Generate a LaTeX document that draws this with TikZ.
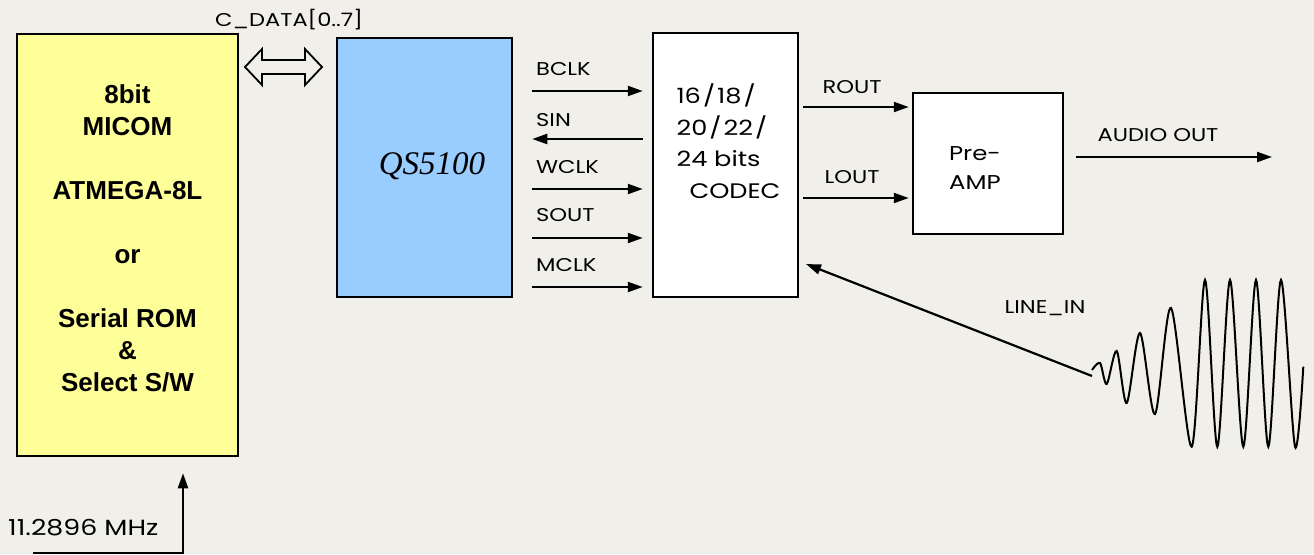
\documentclass[tikz,border=0pt]{standalone}
\usepackage{fontspec}
\setmainfont{Poppins}[FakeStretch=1.22]
\newfontfamily\arialfont{Liberation Sans}
\newfontfamily\timesfont{Liberation Serif}
\usetikzlibrary{arrows.meta}

\definecolor{paper}{RGB}{241,239,233}
\definecolor{micomyellow}{RGB}{255,255,153}
\definecolor{qsblue}{RGB}{153,204,255}

\newcommand{\bitsl}{\kern2pt/\kern2pt}

\begin{document}
\begin{tikzpicture}[x=1pt,y=-1pt,
    blk/.style={draw,line width=2.5pt,inner sep=0pt},
    sig/.style={line width=2.2pt,-{Triangle[length=15pt,width=10pt]}},
    lbl/.style={font=\fontsize{18.5}{20}\selectfont,inner sep=0pt}]
    \fill[paper] (0,0) rectangle (1314,554);
    \useasboundingbox (0,0) rectangle (1314,554);

    \node[blk,fill=micomyellow,minimum width=221pt,minimum height=422pt] (micom) at (127.5,245) {};
    \node[blk,fill=qsblue,minimum width=175pt,minimum height=259pt] (qs) at (424.5,167.5) {};
    \node[blk,fill=white,minimum width=145pt,minimum height=264pt] (codec) at (725.5,165) {};
    \node[blk,fill=white,minimum width=150pt,minimum height=141pt] (preamp) at (988,163.5) {};

    \node[align=center,font=\arialfont\bfseries\fontsize{26}{32}\selectfont] (micomtxt) at (127.5,238)
        {8bit\\MICOM\\[32pt]ATMEGA-8L\\[32pt]or\\[32pt]Serial ROM\\\&\\Select S/W};
    \node[font=\timesfont\itshape\fontsize{33}{36}\selectfont] (qstxt) at (432,166) {QS5100};
    \node[align=left,anchor=west,font=\fontsize{21}{31.5}\selectfont] (codectxt) at (673,141)
        {16\bitsl18\bitsl\\20\bitsl22\bitsl\\24 bits\\\hspace*{13pt}CODEC};
    \node[align=center,font=\fontsize{20}{29}\selectfont] (preamptxt) at (975,168) {Pre-\\AMP};

    \coordinate (cdata) at (283.5,67);
    \draw[line width=1.8pt,line join=miter] (cdata) ++(-38.5,0) -- ++(17,-18) -- ++(0,11) -- ++(43,0)
        -- ++(0,-11) -- ++(17,18) -- ++(-17,18) -- ++(0,-11) -- ++(-43,0) -- ++(0,11) -- cycle;
    \node[lbl] at (289,20) {C\_DATA[0..7]};

    \foreach \name/\y/\ly in {BCLK/91/69,WCLK/189/167,SOUT/238/215,MCLK/287/265}{
        \draw[sig,shorten <=19pt,shorten >=9pt] (qs.east |- 0,\y) -- (codec.west |- 0,\y);
        \node[lbl,anchor=west] at (536,\ly) {\name};
    }
    \draw[sig,shorten <=9pt,shorten >=19pt] (codec.west |- 0,139) -- (qs.east |- 0,139);
    \node[lbl,anchor=west] at (536,120) {SIN};

    \draw[sig,shorten <=4pt,shorten >=3pt] (codec.east |- 0,107) -- (preamp.west |- 0,107);
    \node[lbl] at (852,87) {ROUT};
    \draw[sig,shorten <=4pt,shorten >=3pt] (codec.east |- 0,198) -- (preamp.west |- 0,198);
    \node[lbl] at (852,177) {LOUT};

    \coordinate (audio) at (1272,157);
    \draw[sig,shorten <=12pt] (preamp.east |- audio) -- (audio);
    \node[lbl] at (1158,135) {AUDIO OUT};

    \coordinate (linein) at (1092,376);
    \draw[sig] (linein) -- (806,264);
    \node[lbl] at (1045,308) {LINE\_IN};
    \draw[line width=2pt] plot[smooth] coordinates {(1092,370) (1100,363) (1106.7,384) (1116.7,351)
        (1126.7,403) (1140,333) (1155,414) (1171,308) (1191.7,446.7) (1205,280) (1217.3,446.7)
        (1230,280) (1243.3,446.7) (1256,280) (1268.3,446.7) (1281,280) (1295,446.7) (1303.3,366.7)};

    \coordinate (clk) at (33,553);
    \draw[sig,shorten >=16pt] (clk) -| (micom.south -| 183,0);
    \node[font=\fontsize{22}{24}\selectfont,inner sep=0pt,anchor=west] at (8,528) {11.2896 MHz};
\end{tikzpicture}
\end{document}
